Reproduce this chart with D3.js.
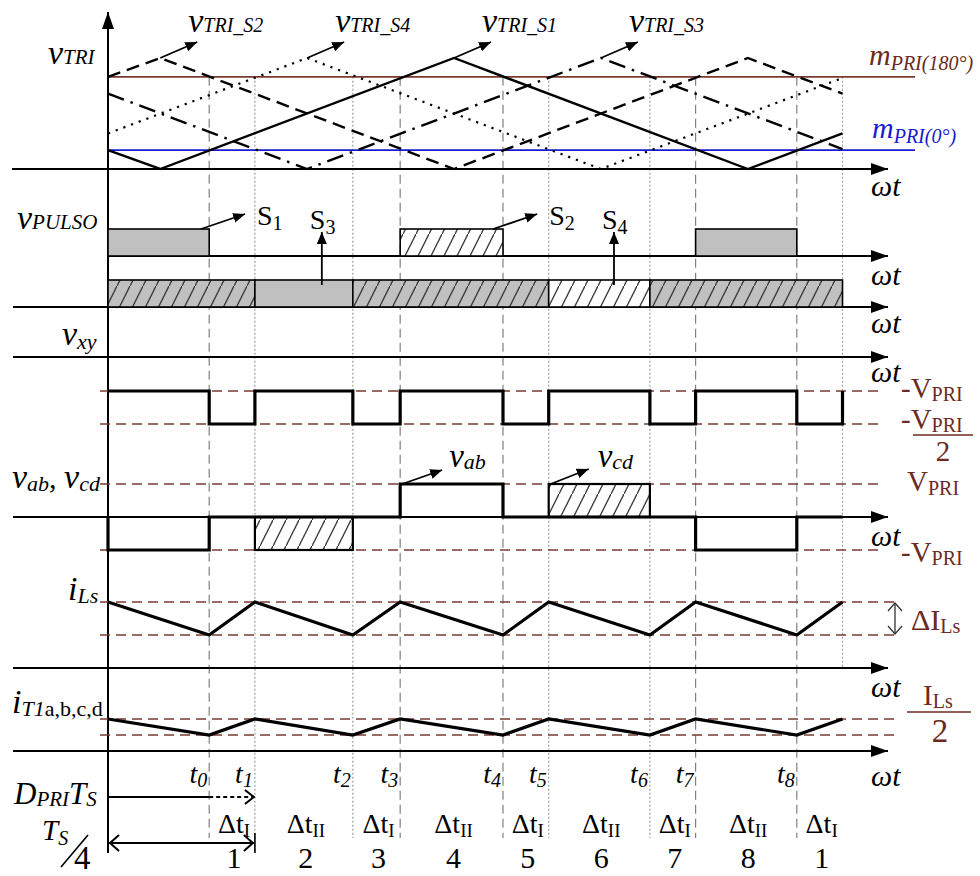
<!DOCTYPE html>
<html>
<head>
<meta charset="utf-8">
<script src="https://cdn.jsdelivr.net/npm/d3@7"></script>
<style>
  body { margin: 0; background: #fff; }
  svg { display: block; }
  text { font-family: "Liberation Serif", "Times New Roman", serif; }
</style>
</head>
<body>
<svg id="chart" width="980" height="876"></svg>
<script>
// ---- data (time in electrical degrees, switching period Ts = 360°) ----
const eventTimes  = [62, 90, 150, 179, 242, 270, 332, 360, 422, 450];
const eventLabels = ['0', '1', '2', '3', '4', '5', '6', '7', '8', null];
const eventStyles = ['dash', 'dot', 'dot', 'dash', 'dash', 'dot', 'dot', 'dash', 'dash', 'dot'];

// carrier vertices [time, normalised amplitude]
const carrierS1 = [[0, 0.17], [32, 0], [212, 1], [392, 0], [450, 0.32]];
const carrierS2 = [[0, 0.83], [32, 1], [212, 0], [392, 1], [450, 0.68]];
const carrierS4 = [[0, 0.32], [122, 1], [302, 0], [450, 0.82]];
const carrierS3 = [[0, 0.68], [122, 0], [302, 1], [450, 0.18]];
const mPri0 = 0.17;
const mPri180 = 0.83;

// gate pulses [start, end, fill kind]
const pulsesS1S2 = [[0, 62, 'gray'], [179, 242, 'hatchWhite'], [360, 422, 'gray']];
const pulsesS3S4 = [[0, 90, 'hatchGray'], [90, 150, 'gray'], [150, 270, 'hatchGray'], [270, 332, 'hatchWhite'], [332, 450, 'hatchGray']];

// v_xy levels (per unit of V_PRI), step-after
const vxyTimes  = [0, 62, 90, 150, 179, 242, 270, 332, 360, 422, 450];
const vxyLevels = [-1, -0.5, -1, -0.5, -1, -0.5, -1, -0.5, -1, -0.5, -1];

// v_ab levels, step-after
const vabTimes  = [0, 0, 62, 179, 242, 360, 422, 450];
const vabLevels = [0, -1, 0, 1, 0, -1, 0, 0];

// v_cd blocks [start, end, level]
const vcdBlocks = [[90, 150, -1], [270, 332, 1]];

// currents (normalised between trough 0 and peak 1)
const iTimes   = [0, 62, 90, 150, 179, 242, 270, 332, 360, 422, 450];
const iLsVals  = [1, 0, 1, 0, 1, 0, 1, 0, 1, 0, 1];
const iT1Vals  = [1, 0, 1, 0, 1, 0, 1, 0, 1, 0, 1];

// interval labels
const intervalNames = ['I', 'II', 'I', 'II', 'I', 'II', 'I', 'II', 'I'];
const intervalNums  = ['1', '2', '3', '4', '5', '6', '7', '8', '1'];

// ---- scales ----
const X = d3.scaleLinear().domain([0, 450]).range([108, 842.5]);
const yTri = d3.scaleLinear().domain([0, 1]).range([169, 58]);
const yVxy = d3.scaleLinear().domain([-1, -0.5]).range([391, 424]);
const yVab = d3.scaleLinear().domain([-1, 1]).range([550, 484]);
const yILs = d3.scaleLinear().domain([0, 1]).range([635, 602]);
const yIT1 = d3.scaleLinear().domain([0, 1]).range([735, 719]);
const pulseRow1 = 256, pulseRow2 = 307, pulseH = 27;

const BROWN = '#7a3a31', BROWN_TXT = '#6b2a22', BLUE = '#1a1ad0';
const svg = d3.select('#chart');
const defs = svg.append('defs');

function hatch(id, bg) {
  const p = defs.append('pattern').attr('id', id).attr('patternUnits', 'userSpaceOnUse')
    .attr('width', 13).attr('height', 26);
  p.append('rect').attr('width', 13).attr('height', 26).attr('fill', bg);
  p.append('path').attr('d', 'M-1,28 L14,-2').attr('stroke', '#3a3a3a').attr('stroke-width', 1.4);
}
hatch('hatchGray', '#c0c0c0');
hatch('hatchWhite', '#ffffff');
const fills = { gray: '#c0c0c0', hatchGray: 'url(#hatchGray)', hatchWhite: 'url(#hatchWhite)' };

defs.append('marker').attr('id', 'ah').attr('viewBox', '0 0 12 10').attr('refX', 12).attr('refY', 5)
  .attr('markerWidth', 12).attr('markerHeight', 10).attr('markerUnits', 'userSpaceOnUse').attr('orient', 'auto')
  .append('path').attr('d', 'M0,0 L12,5 L0,10 Z').attr('fill', '#000');
defs.append('marker').attr('id', 'axh').attr('viewBox', '0 0 17 12').attr('refX', 17).attr('refY', 6)
  .attr('markerWidth', 17).attr('markerHeight', 12).attr('markerUnits', 'userSpaceOnUse').attr('orient', 'auto')
  .append('path').attr('d', 'M0,0 L17,6 L0,12 Z').attr('fill', '#000');

// rich text with sub/superscript parts
function rich(x, y, parts, opt = {}) {
  const t = svg.append('text').attr('x', x).attr('y', y)
    .attr('text-anchor', opt.anchor || 'start').attr('fill', opt.fill || '#000');
  let cur = 0;
  parts.forEach(p => {
    const off = p.dy || 0;
    t.append('tspan').text(p.t).attr('font-size', p.s)
      .attr('font-style', p.i ? 'italic' : 'normal').attr('dy', off - cur);
    cur = off;
  });
  return t;
}

// ---- vertical event lines ----
const gGrid = svg.append('g');
eventTimes.forEach((t, i) => {
  const yEnd = i === eventTimes.length - 1 ? 668 : (i === 1 ? 853 : 838);
  gGrid.append('line').attr('x1', X(t)).attr('x2', X(t)).attr('y1', yTri(mPri180)).attr('y2', yEnd)
    .attr('stroke', eventStyles[i] === 'dash' ? '#808080' : '#a0a0a0')
    .attr('stroke-width', 1.2)
    .attr('stroke-dasharray', eventStyles[i] === 'dash' ? '9,5' : '2,2');
});

// ---- top panel: carriers and modulation lines ----
svg.append('line').attr('x1', X(0)).attr('x2', 915).attr('y1', yTri(mPri180)).attr('y2', yTri(mPri180))
  .attr('stroke', BROWN).attr('stroke-width', 1.6);
svg.append('line').attr('x1', X(0)).attr('x2', 915).attr('y1', yTri(mPri0)).attr('y2', yTri(mPri0))
  .attr('stroke', BLUE).attr('stroke-width', 1.6);

const triLine = d3.line().x(d => X(d[0])).y(d => yTri(d[1]));
const carriers = [
  { d: carrierS1, dash: null, w: 2.4 },
  { d: carrierS2, dash: '13,7', w: 2.4 },
  { d: carrierS4, dash: '2.2,6', w: 2.2 },
  { d: carrierS3, dash: '17,7,2.5,7', w: 2.4 }
];
carriers.forEach(c => {
  svg.append('path').attr('d', triLine(c.d)).attr('fill', 'none').attr('stroke', '#000')
    .attr('stroke-width', c.w).attr('stroke-dasharray', c.dash);
});

// carrier name arrows (from each carrier's peak)
const carrierTags = [
  { peak: 32, name: 'TRI_S2' }, { peak: 122, name: 'TRI_S4' },
  { peak: 212, name: 'TRI_S1' }, { peak: 302, name: 'TRI_S3' }
];
carrierTags.forEach(c => {
  const x0 = X(c.peak), y0 = yTri(1);
  svg.append('line').attr('x1', x0).attr('y1', y0).attr('x2', x0 + 37).attr('y2', y0 - 16)
    .attr('stroke', '#000').attr('stroke-width', 1.8).attr('marker-end', 'url(#ah)');
  rich(x0 + 28, 32, [{ t: 'v', s: 34, i: true }, { t: c.name, s: 20, i: true, dy: 0 }]);
});

// ---- horizontal axes ----
const axes = [
  { y: yTri(0), x0: 12, lab: 196 },
  { y: pulseRow1, x0: X(0), lab: 285 },
  { y: pulseRow2, x0: 13, lab: 333 },
  { y: 357, x0: 13, lab: 382 },
  { y: yVab(0), x0: 13, lab: 546 },
  { y: 668, x0: 13, lab: 697 },
  { y: 751, x0: 13, lab: 786 }
];
axes.forEach(a => {
  svg.append('line').attr('x1', a.x0).attr('x2', 888).attr('y1', a.y).attr('y2', a.y)
    .attr('stroke', '#000').attr('stroke-width', 2).attr('marker-end', 'url(#axh)');
});
axes.forEach(a => {
  rich(871, a.lab, [{ t: 'ω', s: 30, i: true }, { t: 't', s: 30, i: true }]);
});
// vertical axis
svg.append('line').attr('x1', X(0)).attr('x2', X(0)).attr('y1', 853).attr('y2', 12)
  .attr('stroke', '#000').attr('stroke-width', 2).attr('marker-end', 'url(#axh)');

// ---- pulses ----
function drawPulses(rows, base) {
  svg.append('g').selectAll('rect').data(rows).join('rect')
    .attr('x', d => X(d[0])).attr('width', d => X(d[1]) - X(d[0]))
    .attr('y', base - pulseH).attr('height', pulseH)
    .attr('fill', d => fills[d[2]]).attr('stroke', '#000').attr('stroke-width', 1.6);
}
drawPulses(pulsesS1S2, pulseRow1);
drawPulses(pulsesS3S4, pulseRow2);

// pulse annotations
function arrow(x1, y1, x2, y2) {
  svg.append('line').attr('x1', x1).attr('y1', y1).attr('x2', x2).attr('y2', y2)
    .attr('stroke', '#000').attr('stroke-width', 1.8).attr('marker-end', 'url(#ah)');
}
arrow(X(57), pulseRow1 - pulseH, X(57) + 44, pulseRow1 - pulseH - 15);
rich(X(57) + 56, 225, [{ t: 'S', s: 28 }, { t: '1', s: 20, dy: 5 }]);
arrow(X(131), pulseRow2 - 22, X(131), pulseRow2 - 75);
rich(X(131) - 12, 229, [{ t: 'S', s: 28 }, { t: '3', s: 20, dy: 5 }]);
arrow(X(236), pulseRow1 - pulseH, X(236) + 44, pulseRow1 - pulseH - 15);
rich(X(236) + 56, 225, [{ t: 'S', s: 28 }, { t: '2', s: 20, dy: 5 }]);
arrow(X(310), pulseRow2 - 22, X(310), pulseRow2 - 75);
rich(X(310) - 12, 229, [{ t: 'S', s: 28 }, { t: '4', s: 20, dy: 5 }]);

// ---- reference (dashed brown) levels ----
function refLine(y, x2) {
  svg.append('line').attr('x1', 100).attr('x2', x2).attr('y1', y).attr('y2', y)
    .attr('stroke', BROWN).attr('stroke-width', 1.3).attr('stroke-dasharray', '10,6');
}
refLine(yVxy(-1), 883); refLine(yVxy(-0.5), 883);
refLine(yVab(1), 883); refLine(yVab(-1), 883);
refLine(yILs(1), 895); refLine(yILs(0), 895);
refLine(yIT1(1), 895); refLine(yIT1(0), 895);

// ---- v_xy ----
const stepLine = (ys) => d3.line().curve(d3.curveStepAfter).x(d => X(d[0])).y(d => ys(d[1]));
svg.append('path').attr('d', stepLine(yVxy)(d3.zip(vxyTimes, vxyLevels)))
  .attr('fill', 'none').attr('stroke', '#000').attr('stroke-width', 3.2);

// ---- v_cd blocks and v_ab ----
svg.append('g').selectAll('rect').data(vcdBlocks).join('rect')
  .attr('x', d => X(d[0])).attr('width', d => X(d[1]) - X(d[0]))
  .attr('y', d => Math.min(yVab(0), yVab(d[2]))).attr('height', d => Math.abs(yVab(d[2]) - yVab(0)))
  .attr('fill', 'url(#hatchWhite)').attr('stroke', '#000').attr('stroke-width', 2.2);
svg.append('path').attr('d', stepLine(yVab)(d3.zip(vabTimes, vabLevels)))
  .attr('fill', 'none').attr('stroke', '#000').attr('stroke-width', 3.2);
arrow(X(179) + 2, yVab(1), X(179) + 42, yVab(1) - 14);
rich(X(179) + 49, 467, [{ t: 'v', s: 33, i: true }, { t: 'ab', s: 22, i: true, dy: 2 }]);
arrow(X(270) + 2, yVab(1), X(270) + 40, yVab(1) - 15);
rich(X(270) + 49, 467, [{ t: 'v', s: 33, i: true }, { t: 'cd', s: 22, i: true, dy: 2 }]);

// ---- currents ----
const lin = (ys) => d3.line().x(d => X(d[0])).y(d => ys(d[1]));
svg.append('path').attr('d', lin(yILs)(d3.zip(iTimes, iLsVals)))
  .attr('fill', 'none').attr('stroke', '#000').attr('stroke-width', 3.2);
svg.append('path').attr('d', lin(yIT1)(d3.zip(iTimes, iT1Vals)))
  .attr('fill', 'none').attr('stroke', '#000').attr('stroke-width', 3.2);

// ΔI_Ls double arrow
svg.append('line').attr('x1', 895).attr('x2', 895).attr('y1', yILs(1) + 1).attr('y2', yILs(0) - 1)
  .attr('stroke', '#333').attr('stroke-width', 1.3);
svg.append('path').attr('d', `M888,${yILs(1) + 9} L895,${yILs(1) + 1} L902,${yILs(1) + 9} M888,${yILs(0) - 9} L895,${yILs(0) - 1} L902,${yILs(0) - 9}`)
  .attr('fill', 'none').attr('stroke', '#333').attr('stroke-width', 1.3);

// ---- left labels ----
rich(48, 64, [{ t: 'v', s: 34, i: true }, { t: 'TRI', s: 21, i: true, dy: 0 }]);
rich(17, 229, [{ t: 'v', s: 34, i: true }, { t: 'PULSO', s: 21, i: true, dy: 0 }]);
rich(62, 345, [{ t: 'v', s: 34, i: true }, { t: 'xy', s: 22, i: true, dy: 4 }]);
rich(12, 488, [{ t: 'v', s: 34, i: true }, { t: 'ab', s: 22, i: true, dy: 3 }, { t: ', ', s: 30, dy: 0 },
  { t: 'v', s: 34, i: true }, { t: 'cd', s: 22, i: true, dy: 3 }]);
rich(68, 600, [{ t: 'i', s: 34, i: true }, { t: 'Ls', s: 22, i: true, dy: 3 }]);
rich(12, 713, [{ t: 'i', s: 34, i: true }, { t: 'T1', s: 22, i: true, dy: 3 }, { t: 'a,b,c,d', s: 22, dy: 3 }]);

// ---- right labels ----
rich(869, 65, [{ t: 'm', s: 30, i: true }, { t: 'PRI(180°)', s: 20, i: true, dy: 5 }], { fill: BROWN_TXT });
rich(872, 138, [{ t: 'm', s: 30, i: true }, { t: 'PRI(0°)', s: 20, i: true, dy: 5 }], { fill: BLUE });
rich(901, 398, [{ t: '-V', s: 29 }, { t: 'PRI', s: 20, dy: 3 }], { fill: BROWN_TXT });
rich(901, 429, [{ t: '-V', s: 29 }, { t: 'PRI', s: 20, dy: 3 }], { fill: BROWN_TXT });
svg.append('line').attr('x1', 913).attr('x2', 973).attr('y1', 435).attr('y2', 435).attr('stroke', BROWN_TXT).attr('stroke-width', 1.3);
rich(943, 461, [{ t: '2', s: 29 }], { fill: BROWN_TXT, anchor: 'middle' });
rich(907, 491, [{ t: 'V', s: 29 }, { t: 'PRI', s: 20, dy: 4 }], { fill: BROWN_TXT });
rich(901, 562, [{ t: '-V', s: 29 }, { t: 'PRI', s: 20, dy: 3 }], { fill: BROWN_TXT });
rich(911, 630, [{ t: 'ΔI', s: 30 }, { t: 'Ls', s: 20, dy: 3 }], { fill: BROWN_TXT });
rich(923, 705, [{ t: 'I', s: 29 }, { t: 'Ls', s: 20, dy: 3 }], { fill: BROWN_TXT });
svg.append('line').attr('x1', 907).attr('x2', 971).attr('y1', 712).attr('y2', 712).attr('stroke', BROWN_TXT).attr('stroke-width', 1.3);
rich(940, 742, [{ t: '2', s: 33 }], { fill: BROWN_TXT, anchor: 'middle' });

// ---- event time labels ----
eventTimes.forEach((t, i) => {
  if (eventLabels[i] === null) return;
  rich(X(t) - 2, 783, [{ t: 't', s: 28, i: true }, { t: eventLabels[i], s: 20, i: true, dy: 4 }], { anchor: 'end' });
});

// D_PRI·T_S arrow (solid to t0, dotted to t1)
svg.append('line').attr('x1', X(0)).attr('x2', X(eventTimes[0])).attr('y1', 797).attr('y2', 797)
  .attr('stroke', '#000').attr('stroke-width', 2);
svg.append('line').attr('x1', X(eventTimes[0])).attr('x2', X(eventTimes[1]) - 2).attr('y1', 797).attr('y2', 797)
  .attr('stroke', '#000').attr('stroke-width', 2).attr('stroke-dasharray', '4,3');
svg.append('path').attr('d', `M${X(90) - 10},790 L${X(90) - 1},797 L${X(90) - 10},804`)
  .attr('fill', 'none').attr('stroke', '#000').attr('stroke-width', 2);
rich(14, 804, [{ t: 'D', s: 31, i: true }, { t: 'PRI', s: 21, i: true, dy: 2 }, { t: 'T', s: 31, i: true, dy: 0 }, { t: 'S', s: 21, i: true, dy: 2 }]);

// Ts/4 double arrow
svg.append('line').attr('x1', X(0) + 1).attr('x2', X(90) - 1).attr('y1', 843).attr('y2', 843)
  .attr('stroke', '#000').attr('stroke-width', 2);
svg.append('path').attr('d', `M${X(0) + 11},835 L${X(0) + 2},843 L${X(0) + 11},851 M${X(90) - 11},835 L${X(90) - 2},843 L${X(90) - 11},851`)
  .attr('fill', 'none').attr('stroke', '#000').attr('stroke-width', 2);
svg.append('line').attr('x1', X(90)).attr('x2', X(90)).attr('y1', 833).attr('y2', 853)
  .attr('stroke', '#000').attr('stroke-width', 1.6);
rich(42, 840, [{ t: 'T', s: 29, i: true }, { t: 'S', s: 20, i: true, dy: 5 }]);
svg.append('line').attr('x1', 61).attr('y1', 867).attr('x2', 88).attr('y2', 835).attr('stroke', '#000').attr('stroke-width', 1.6);
rich(74, 869, [{ t: '4', s: 33 }]);

// interval labels
intervalNames.forEach((n, i) => {
  const mid = (X(eventTimes[i]) + X(eventTimes[i + 1])) / 2 + 2;
  rich(mid, 833, [{ t: 'Δt', s: 28 }, { t: n, s: 19, dy: 4 }], { anchor: 'middle' });
  rich(mid, 868, [{ t: intervalNums[i], s: 30 }], { anchor: 'middle' });
});
</script>
</body>
</html>
